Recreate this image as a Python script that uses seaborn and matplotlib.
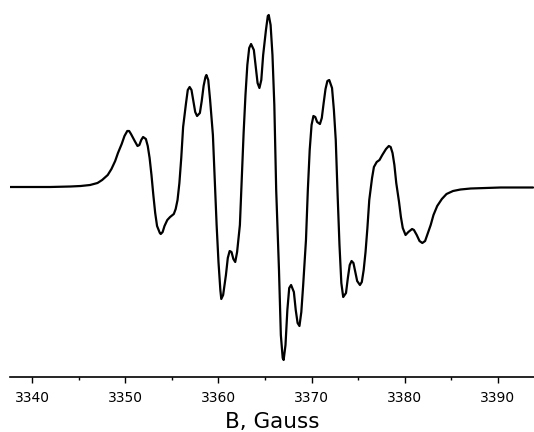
import matplotlib
matplotlib.use("Agg")
import matplotlib.pyplot as plt
from matplotlib.ticker import MultipleLocator
import numpy as np
import pandas as pd
import seaborn as sns

# Magnetic field (Gauss)
field = [3337.6, 3339.8, 3341.9, 3344.1, 3345.2, 3346.2, 3347.0, 3347.5, 3348.1, 3348.5,
         3348.9, 3349.2, 3349.6, 3349.9, 3350.2, 3350.4, 3350.6, 3351.0, 3351.3, 3351.5,
         3351.7, 3351.9, 3352.2, 3352.4, 3352.6, 3352.8, 3353.0, 3353.2, 3353.4, 3353.7,
         3353.8, 3354.0, 3354.2, 3354.5, 3354.8, 3355.2, 3355.4, 3355.6, 3355.8, 3356.0,
         3356.2, 3356.5, 3356.7, 3356.9, 3357.1, 3357.3, 3357.5, 3357.7, 3358.0, 3358.2,
         3358.4, 3358.6, 3358.7, 3358.9, 3359.1, 3359.4, 3359.6, 3359.8, 3360.0, 3360.2,
         3360.3, 3360.5, 3360.8, 3361.0, 3361.2, 3361.4, 3361.6, 3361.8, 3362.0, 3362.3,
         3362.5, 3362.7, 3362.9, 3363.1, 3363.3, 3363.5, 3363.8, 3364.0, 3364.2, 3364.4,
         3364.6, 3364.8, 3365.1, 3365.3, 3365.4, 3365.6, 3365.8, 3366.0, 3366.2, 3366.5,
         3366.7, 3366.9, 3367.0, 3367.2, 3367.4, 3367.6, 3367.8, 3368.1, 3368.3, 3368.5,
         3368.7, 3368.9, 3369.1, 3369.4, 3369.6, 3369.8, 3370.0, 3370.2, 3370.4, 3370.6,
         3370.9, 3371.1, 3371.3, 3371.5, 3371.7, 3371.9, 3372.2, 3372.4, 3372.6, 3372.8,
         3373.0, 3373.2, 3373.4, 3373.7, 3373.9, 3374.1, 3374.3, 3374.5, 3374.7, 3374.9,
         3375.2, 3375.4, 3375.6, 3375.8, 3376.0, 3376.2, 3376.5, 3376.7, 3377.0, 3377.3,
         3377.6, 3378.0, 3378.3, 3378.5, 3378.7, 3378.9, 3379.1, 3379.4, 3379.6, 3379.8,
         3380.1, 3380.4, 3380.8, 3381.0, 3381.3, 3381.6, 3381.9, 3382.2, 3382.5, 3382.8,
         3383.1, 3383.5, 3384.0, 3384.5, 3385.2, 3386.0, 3387.1, 3388.7, 3390.3, 3392.5,
         3393.8]

# EPR signal (arbitrary units)
signal = [0, 0, 0, 0.5, 1, 2, 4, 7, 12, 18,
          26, 34, 43, 51, 56, 56, 53, 46, 41, 42,
          47, 50, 48, 41, 29, 12, -8, -26, -39, -46,
          -47, -45, -39, -33, -30, -27, -22, -13, 4, 29,
          60, 83, 97, 100, 97, 86, 75, 71, 74, 86,
          101, 110, 112, 107, 87, 52, 7, -38, -75, -103,
          -112, -108, -88, -71, -64, -65, -72, -75, -65, -38,
          7, 54, 92, 122, 139, 143, 137, 120, 104, 99,
          107, 132, 157, 171, 172, 162, 132, 82, -3, -83,
          -148, -171, -173, -158, -123, -101, -98, -105, -123, -136,
          -139, -125, -98, -53, -3, 37, 62, 71, 70, 65,
          63, 69, 84, 98, 106, 107, 99, 77, 47, -8,
          -58, -96, -110, -106, -91, -78, -74, -76, -85, -94,
          -98, -95, -83, -65, -41, -13, 9, 20, 25, 27,
          32, 38, 41, 40, 34, 22, 4, -15, -30, -41,
          -48, -45, -42, -43, -48, -54, -56, -54, -46, -38,
          -28, -19, -12, -7, -4, -2.5, -1.5, -1, -0.5, -0.5,
          -0.5]

major_ticks = [3340, 3350, 3360, 3370, 3380, 3390]
xlabel = "B, Gauss"

df = pd.DataFrame({"field": field, "signal": signal})

sns.set_style("ticks")
plt.rcParams["font.family"] = ["DejaVu Sans"]

fig = plt.figure(figsize=(5.34, 4.32), dpi=100)
ax = fig.add_axes([10 / 534, 55 / 432, 524 / 534, 377 / 432])

sns.lineplot(data=df, x="field", y="signal", ax=ax, color="black",
             linewidth=1.6, estimator=None, sort=False)

ax.set_xlim(3337.6, 3393.9)
ax.set_ylim(-190, 187)
ax.set_xticks(major_ticks)
ax.set_xticklabels([str(t) for t in major_ticks])
ax.xaxis.set_minor_locator(MultipleLocator(5))
ax.tick_params(axis="x", which="major", length=4.5, width=1.0, labelsize=10,
               pad=5.5, colors="black")
ax.tick_params(axis="x", which="minor", length=2.5, width=1.0, colors="black")
ax.set_yticks([])
ax.set_ylabel("")
ax.set_xlabel(xlabel, fontsize=15.5, labelpad=5, color="black")

for s in ["top", "right", "left"]:
    ax.spines[s].set_visible(False)
ax.spines["bottom"].set_linewidth(1.2)
ax.spines["bottom"].set_color("black")
ax.patch.set_alpha(0)

fig.savefig("out.png", dpi=100)
